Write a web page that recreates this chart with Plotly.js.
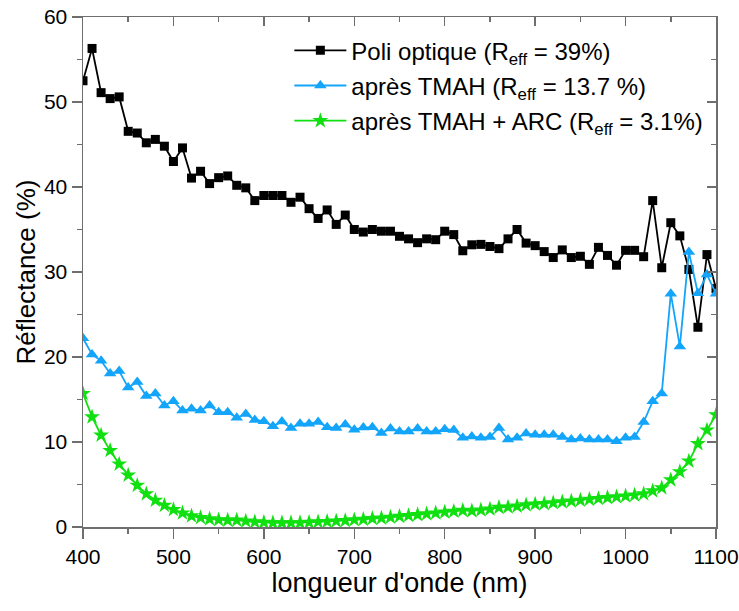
<!DOCTYPE html>
<html>
<head>
<meta charset="utf-8">
<script src="https://cdn.plot.ly/plotly-3.0.1.min.js"></script>
<style>html,body{margin:0;padding:0;background:#fff;}</style>
</head>
<body>
<div id="chart" style="width:739px;height:611px;"></div>
<script>
// wavelength (nm)
const wavelength = [400,410,420,430,440,450,460,470,480,490,500,510,520,530,540,550,560,570,580,590,600,610,620,630,640,650,660,670,680,690,700,710,720,730,740,750,760,770,780,790,800,810,820,830,840,850,860,870,880,890,900,910,920,930,940,950,960,970,980,990,1000,1010,1020,1030,1040,1050,1060,1070,1080,1090,1100];

const poliOptique = [52.5,56.3,51.1,50.4,50.6,46.55,46.35,45.2,45.6,44.8,43.0,44.6,41.05,41.85,40.4,41.1,41.3,40.2,39.9,38.4,39.0,39.0,39.0,38.2,38.8,37.45,36.3,37.3,35.6,36.7,35.0,34.7,35.0,34.8,34.8,34.2,33.9,33.45,33.9,33.8,34.8,34.4,32.5,33.2,33.25,33.0,32.75,33.9,35.0,33.4,33.1,32.4,31.7,32.6,31.7,31.85,30.9,32.9,31.95,30.8,32.55,32.55,31.8,38.4,30.5,35.8,34.25,30.3,23.5,32.05,28.05];

const apresTMAH = [22.2,20.3,19.55,18.05,18.35,16.4,17.06,15.4,15.7,14.3,14.8,13.7,13.9,13.7,14.3,13.5,13.5,12.85,13.3,12.6,12.45,11.85,12.4,11.65,12.15,12.15,12.35,11.75,11.65,12.05,11.45,11.7,11.75,11.05,11.6,11.25,11.25,11.6,11.25,11.25,11.5,11.4,10.5,10.65,10.5,10.6,11.65,10.3,10.5,11.0,10.85,10.85,10.85,10.6,10.3,10.4,10.3,10.3,10.3,10.1,10.5,10.6,12.35,14.8,15.7,27.45,21.25,32.35,27.5,29.7,27.45];

const apresTMAHARC = [15.7,12.95,10.8,9.0,7.4,6.1,4.9,3.9,3.15,2.55,2.05,1.65,1.3,1.1,0.95,0.85,0.8,0.8,0.7,0.6,0.55,0.5,0.5,0.5,0.5,0.55,0.6,0.65,0.7,0.75,0.85,0.9,1.0,1.05,1.15,1.25,1.35,1.45,1.55,1.65,1.75,1.85,1.95,1.9,2.0,2.1,2.3,2.35,2.45,2.6,2.7,2.75,2.85,2.95,3.05,3.15,3.25,3.35,3.45,3.55,3.65,3.75,3.9,4.25,4.6,5.55,6.5,7.75,9.8,11.4,13.2];

const seriesNames = [
  "Poli optique (R<sub>eff</sub> = 39%)",
  "après TMAH (R<sub>eff</sub> = 13.7 %)",
  "après TMAH + ARC (R<sub>eff</sub> = 3.1%)"
];

const xTitle = "longueur d'onde (nm)";
const yTitle = "Réflectance (%)";

const FONT = "Arial, 'Liberation Sans', sans-serif";
const AX = "#6e6e6e";

const traces = [
  {x: wavelength, y: poliOptique, name: seriesNames[0], legendgroup: 'a', type: 'scatter', mode: 'lines+markers',
   line: {color: '#000000', width: 1.8}, marker: {symbol: 'square', size: 9, color: '#000000'}},
  {x: wavelength, y: apresTMAH, name: seriesNames[1], legendgroup: 'b', type: 'scatter', mode: 'lines+markers',
   line: {color: '#12a5fa', width: 1.8}, marker: {symbol: 'triangle-up', size: 11, color: '#12a5fa'}},
  {x: wavelength, y: apresTMAHARC, name: seriesNames[2], legendgroup: 'c', type: 'scatter', mode: 'lines+markers',
   line: {color: '#10e010', width: 1.8}, marker: {symbol: 'star', size: 12, color: '#10e010'}}
];

const layout = {
  width: 739, height: 611,
  margin: {l: 83, r: 23, t: 17, b: 84},
  paper_bgcolor: '#ffffff', plot_bgcolor: '#ffffff',
  font: {family: FONT, size: 21, color: '#000'},
  showlegend: true,
  legend: {x: 0.326, y: 0.978, xanchor: 'left', yanchor: 'top', bgcolor: 'rgba(0,0,0,0)',
           font: {family: FONT, size: 24, color: '#000'}, tracegroupgap: 1, itemwidth: 52},
  xaxis: {range: [400, 1100], dtick: 100, tick0: 400, showgrid: false, zeroline: false,
          showline: true, linecolor: AX, linewidth: 1.5, ticks: 'outside', ticklen: 10, tickwidth: 1.5, tickcolor: AX,
          minor: {dtick: 50, ticks: 'outside', ticklen: 5, tickwidth: 1.5, tickcolor: AX, showgrid: false},
          tickfont: {family: FONT, size: 21, color: '#000'},
          title: {text: xTitle, font: {family: FONT, size: 27, color: '#000'}, standoff: 6}},
  yaxis: {range: [0, 60], dtick: 10, tick0: 0, showgrid: false, zeroline: false,
          showline: true, linecolor: AX, linewidth: 1.5, ticks: 'outside', ticklen: 10, tickwidth: 1.5, tickcolor: AX,
          minor: {dtick: 5, ticks: 'outside', ticklen: 5, tickwidth: 1.5, tickcolor: AX, showgrid: false},
          tickfont: {family: FONT, size: 21, color: '#000'},
          title: {text: yTitle, font: {family: FONT, size: 26, color: '#000'}, standoff: 1}},
  xaxis2: {overlaying: 'x', side: 'top', range: [400, 1100], dtick: 100, tick0: 400, showgrid: false, zeroline: false,
           showline: true, linecolor: AX, linewidth: 1.5, ticks: 'inside', ticklen: 9, tickwidth: 1.5, tickcolor: AX,
           minor: {dtick: 50, ticks: 'inside', ticklen: 5, tickwidth: 1.5, tickcolor: AX, showgrid: false},
           showticklabels: false},
  yaxis2: {overlaying: 'y', side: 'right', range: [0, 60], dtick: 10, tick0: 0, showgrid: false, zeroline: false,
           showline: true, linecolor: AX, linewidth: 1.5, ticks: 'inside', ticklen: 9, tickwidth: 1.5, tickcolor: AX,
           minor: {dtick: 5, ticks: 'inside', ticklen: 5, tickwidth: 1.5, tickcolor: AX, showgrid: false},
           showticklabels: false}
};

// invisible trace to activate overlay axes
traces.push({x: [wavelength[0]], y: [poliOptique[0]], xaxis: 'x2', yaxis: 'y2', mode: 'markers',
             marker: {opacity: 0}, showlegend: false, hoverinfo: 'skip'});

Plotly.newPlot('chart', traces, layout, {displayModeBar: false, staticPlot: true});
</script>
</body>
</html>
